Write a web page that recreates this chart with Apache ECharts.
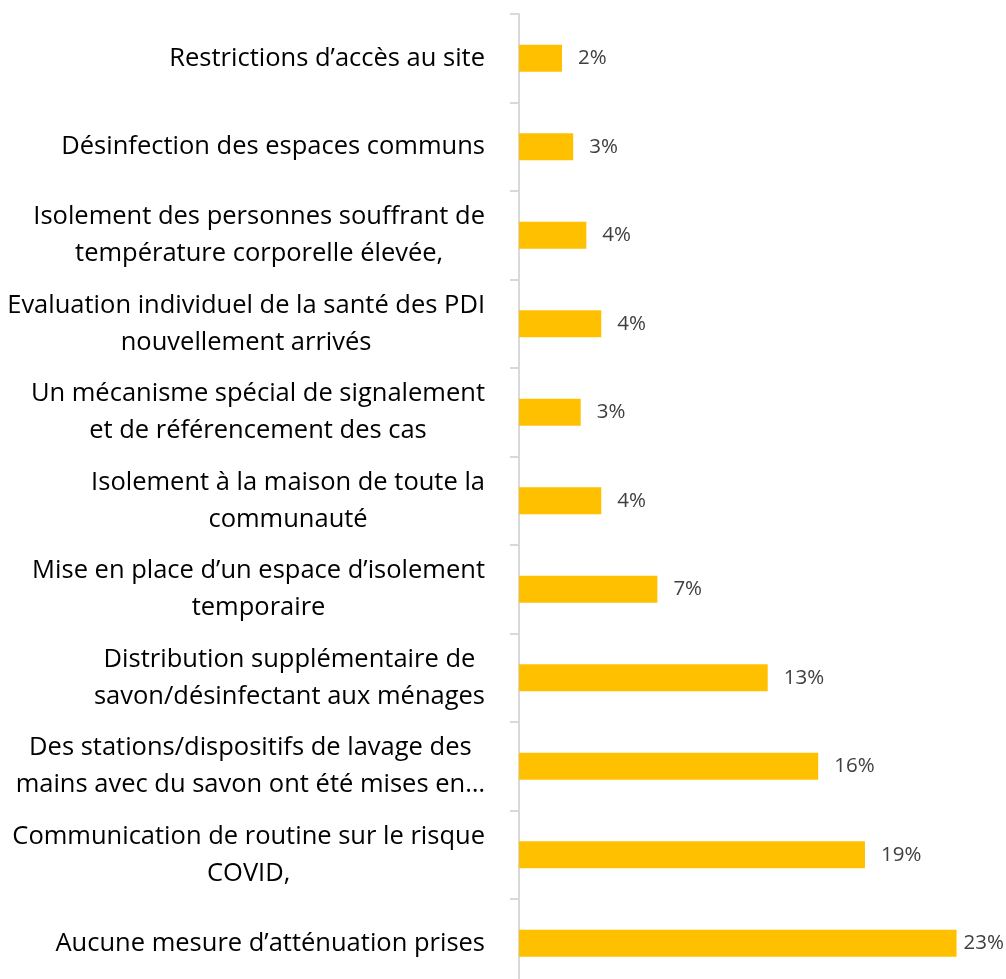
<!DOCTYPE html>
<html>
<head>
<meta charset="utf-8">
<script src="https://cdn.jsdelivr.net/npm/echarts@6/dist/echarts.min.js"></script>
<style>
  html, body { margin: 0; padding: 0; background: #fff; overflow: hidden; }
  /* le graphique d'origine est rogné en bas : zone plus haute que la fenêtre */
  #chart { width: 1006px; height: 1000px; }
</style>
</head>
<body>
<div id="chart"></div>
<script>
  // categories, top to bottom
  var categories = [
    'Restrictions d’accès au site',
    'Désinfection des espaces communs',
    'Isolement des personnes souffrant de\ntempérature corporelle élevée,',
    'Evaluation individuel de la santé des PDI\nnouvellement arrivés',
    'Un mécanisme spécial de signalement\net de référencement des cas',
    'Isolement à la maison de toute la\ncommunauté',
    'Mise en place d’un espace d’isolement\ntemporaire',
    'Distribution supplémentaire de\nsavon/désinfectant aux ménages',
    'Des stations/dispositifs de lavage des\nmains avec du savon ont été mises en…',
    'Communication de routine sur le risque\nCOVID,',
    'Aucune mesure d’atténuation prises'
  ];
  // percentages
  var values = [2.3, 2.9, 3.6, 4.4, 3.3, 4.4, 7.4, 13.3, 16.0, 18.5, 23.4];

  var W = 1006;
  var myChart = echarts.init(document.getElementById('chart'));

  var option = {
    animation: false,
    grid: {
      left: 519,
      top: 14,
      right: 19.5,
      height: 973.5
    },
    xAxis: {
      type: 'value',
      min: 0,
      max: 25,
      show: false
    },
    yAxis: {
      type: 'category',
      inverse: true,
      data: categories,
      axisLine: {
        show: true,
        lineStyle: { color: '#d9d9d9', width: 2 }
      },
      axisTick: {
        show: true,
        length: 9,
        lineStyle: { color: '#d9d9d9', width: 2 }
      },
      axisLabel: {
        margin: 34,
        align: 'right',
        color: '#000',
        fontFamily: 'Open Sans',
        fontSize: 25.5,
        lineHeight: 37,
        // lignes centrées dans un bloc aligné à droite
        formatter: function (v) {
          return v.split('\n').map(function (l) { return '{c|' + l + '}'; }).join('\n');
        },
        rich: {
          c: { align: 'center', fontFamily: 'Open Sans', fontSize: 25.5, lineHeight: 37, color: '#000' }
        }
      }
    },
    series: [{
      type: 'bar',
      data: values,
      barWidth: 27,
      itemStyle: { color: '#ffc000' },
      label: {
        show: true,
        position: 'right',
        distance: 16,
        color: '#404040',
        fontFamily: 'Open Sans',
        fontSize: 20.5,
        formatter: function (p) { return Math.round(p.value) + '%'; }
      },
      // garder l'étiquette dans le cadre, comme Excel
      labelLayout: function (p) {
        var r = p.labelRect;
        var over = r.x + r.width - (W - 2);
        if (over > 0) {
          return { dx: -over };
        }
      }
    }]
  };

  myChart.setOption(option);
</script>
</body>
</html>
